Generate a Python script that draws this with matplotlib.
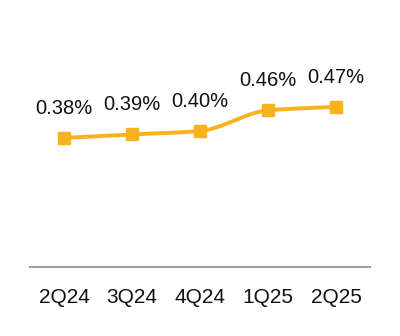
import numpy as np
import matplotlib
from matplotlib import pyplot as plt

matplotlib.use('Agg')

quarters = ['2Q24', '3Q24', '4Q24', '1Q25', '2Q25']
ratio = [0.38, 0.39, 0.40, 0.46, 0.47]
labels = ['0.38%', '0.39%', '0.40%', '0.46%', '0.47%']

color = '#F8B21C'


def monotone_curve(x, y, n=40):
    # Fritsch-Carlson monotone cubic, for the smoothed line only
    x = np.asarray(x, float)
    y = np.asarray(y, float)
    h = np.diff(x)
    d = np.diff(y) / h
    m = np.zeros_like(y)
    m[0], m[-1] = d[0], d[-1]
    for i in range(1, len(y) - 1):
        if d[i - 1] * d[i] > 0:
            m[i] = 2 / (1 / d[i - 1] + 1 / d[i])
    xs, ys = [], []
    for i in range(len(h)):
        t = np.linspace(0, 1, n)
        h00 = 2 * t**3 - 3 * t**2 + 1
        h10 = t**3 - 2 * t**2 + t
        h01 = -2 * t**3 + 3 * t**2
        h11 = t**3 - t**2
        xs.append(x[i] + t * h[i])
        ys.append(h00 * y[i] + h10 * h[i] * m[i] + h01 * y[i + 1] + h11 * h[i] * m[i + 1])
    return np.concatenate(xs), np.concatenate(ys)


plt.rcParams['font.family'] = ['Liberation Sans', 'DejaVu Sans']

fig = plt.figure(figsize=(4, 3.36), dpi=100)
ax = fig.add_axes([0.075, 0.2054, 0.85, 0.62])

x = np.arange(len(quarters))
cx, cy = monotone_curve(x, ratio)
ax.plot(cx, cy, color=color, lw=2.8, solid_capstyle='round', zorder=2)
ax.plot(x, ratio, linestyle='none', marker='s', markersize=8.5, color=color, zorder=3)

for xi, yi, lab in zip(x, ratio, labels):
    ax.annotate(lab, (xi, yi), xytext=(0, 21.5), textcoords='offset points',
                ha='center', va='center', fontsize=14.5, color='#111111')

ax.set_xlim(-0.5, len(quarters) - 0.5)
ax.set_ylim(0.005, 0.61)
ax.set_xticks(x)
ax.set_xticklabels(quarters, fontsize=15, color='#111111')
ax.tick_params(axis='x', length=0, pad=15)
ax.set_yticks([])
for side in ['top', 'right', 'left']:
    ax.spines[side].set_visible(False)
ax.spines['bottom'].set_color('#A0A0A0')
ax.spines['bottom'].set_linewidth(1.5)

plt.savefig('out.png', format='png')
